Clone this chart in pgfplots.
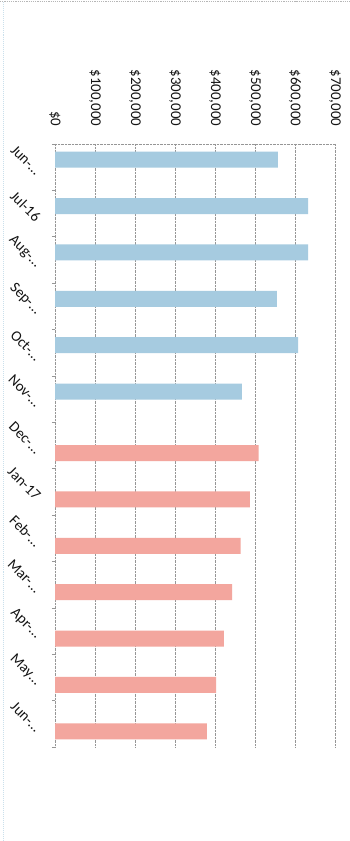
\documentclass[border=0pt]{standalone}
\usepackage{pgfplots}
\pgfplotsset{compat=1.18}
\usepackage{fontspec}
\setmainfont{Carlito}
\definecolor{barblue}{RGB}{166,203,224}
\definecolor{barpink}{RGB}{243,166,158}
\definecolor{gridgray}{RGB}{150,150,150}
\definecolor{txt}{RGB}{20,20,20}
\begin{document}
\begin{tikzpicture}
\useasboundingbox (0,0) rectangle (350bp,841bp);
\fill[white] (0,0) rectangle (350bp,841bp);
\draw[gridgray!70, densely dotted, line width=1.2bp] (0,839.5bp) -- (350bp,839.5bp);
\draw[barblue!60, densely dotted, line width=1bp] (3bp,0) -- (3bp,839bp);
\begin{axis}[
  at={(55bp,94bp)}, anchor=south west,
  scale only axis, width=280bp, height=603bp,
  xbar, bar width=16bp,
  xmin=0, xmax=700000,
  ymin=-0.5, ymax=12.5, y dir=reverse,
  axis x line*=top, axis y line*=left,
  x axis line style={-, gridgray, densely dotted},
  y axis line style={-, gridgray, densely dotted},
  xtick={0,100000,200000,300000,400000,500000,600000,700000},
  xticklabels={\$0,{\$100,000},{\$200,000},{\$300,000},{\$400,000},{\$500,000},{\$600,000},{\$700,000}},
  scaled x ticks=false,
  xticklabel style={rotate=-90, anchor=east, font=\fontsize{15}{18}\selectfont, text=txt},
  xticklabel shift=10bp,
  xmajorgrids, major grid style={gridgray, densely dotted, line width=0.8bp},
  major x tick style={draw=none},
  ytick={0,...,12},
  yticklabels={Jun-…,Jul-16,Aug-…,Sep-…,Oct-…,Nov-…,Dec-…,Jan-17,Feb-…,Mar-…,Apr-…,May…,Jun-…},
  yticklabel style={xshift=-10bp, yshift=-8bp, rotate=-45, anchor=east, font=\fontsize{15}{18}\selectfont, text=txt},
  major y tick style={draw=none},
  minor ytick={-0.5,0.5,...,12.5},
  minor y tick style={gridgray, line width=0.6bp},
  minor tick length=3bp,
  tick align=outside,
  clip=false,
]
\addplot[fill=barblue, draw=none, bar shift=7.5bp] coordinates {
  (557000,0) (633000,1) (633000,2) (555000,3) (608000,4) (467000,5)
};
\addplot[fill=barpink, draw=none, bar shift=-7.5bp] coordinates {
  (509000,6) (487000,7) (464000,8) (443000,9) (422000,10) (403000,11) (380000,12)
};
\end{axis}
\end{tikzpicture}
\end{document}
